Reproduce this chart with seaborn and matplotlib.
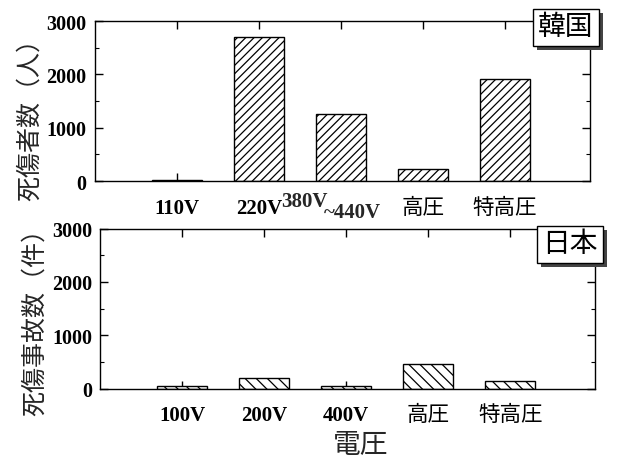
import matplotlib
matplotlib.use("Agg")
import matplotlib.pyplot as plt
import matplotlib.transforms as mtransforms
import matplotlib.patheffects as pe
from matplotlib.ticker import MultipleLocator
import seaborn as sns
import pandas as pd

# ---- data ----
kr_categories = ["110V", "220V", "380V~440V", "高圧", "特高圧"]
kr_values = [15, 2700, 1260, 230, 1920]
jp_categories = ["100V", "200V", "400V", "高圧", "特高圧"]
jp_values = [55, 190, 45, 470, 135]
y_ticks = [0, 1000, 2000, 3000]
kr_ylabel = "死傷者数（人）"
jp_ylabel = "死傷事故数（件）"
xlabel = "電圧"
kr_tag = "韓国"
jp_tag = "日本"

sns.set_theme(style="ticks")
FAM = ["Liberation Serif", "Noto Sans CJK JP", "DejaVu Sans"]
plt.rcParams["font.family"] = FAM
plt.rcParams["hatch.linewidth"] = 0.9

fig = plt.figure(figsize=(6.2, 4.6), dpi=100)
ax1 = fig.add_axes([0.153, 0.604, 0.798, 0.348])
ax2 = fig.add_axes([0.162, 0.153, 0.797, 0.348])


def is_ascii(s):
    return all(ord(c) < 128 for c in s)


def draw(ax, cats, vals, hatch, ylabel, ylab_y, tag, tagxy):
    df = pd.DataFrame({"cat": cats, "val": vals})
    sns.barplot(data=df, x="cat", y="val", ax=ax, color="white",
                edgecolor="black", linewidth=1.0, hatch=hatch, width=0.61,
                errorbar=None, saturation=1)
    for p in ax.patches:
        p.set_facecolor("white")
        p.set_edgecolor("black")
    ax.set_xlim(-1, 5.03)
    ax.set_ylim(0, 3000)
    ax.set_yticks(y_ticks)
    ax.yaxis.set_minor_locator(MultipleLocator(500))
    ax.set_yticklabels([str(v) for v in y_ticks], fontsize=14.5, fontweight="bold")
    ax.set_xlabel("")
    ax.set_ylabel(ylabel, fontsize=18, family=FAM)
    ax.yaxis.set_label_coords(-0.108, ylab_y)
    ax.tick_params(axis="both", which="both", direction="in", top=True, right=True,
                   colors="black")
    ax.tick_params(axis="both", which="major", length=6, width=1)
    ax.tick_params(axis="y", which="minor", length=3, width=0.8)
    ax.tick_params(axis="x", which="major", pad=12)
    ax.tick_params(axis="y", which="major", pad=6)
    labels = ["" if "~" in c else c for c in cats]
    ax.set_xticks(range(len(cats)))
    ax.set_xticklabels(labels)
    for t in ax.get_xticklabels():
        if is_ascii(t.get_text()):
            t.set_fontweight("bold")
            t.set_fontsize(15)
        else:
            t.set_fontweight("normal")
            t.set_fontsize(15.5)
    trans = mtransforms.blended_transform_factory(ax.transData, ax.transAxes)
    for i, c in enumerate(cats):
        if "~" in c:
            a, b = c.split("~")
            ax.text(i - 0.45, -0.125, a, transform=trans, ha="center", va="center",
                    fontsize=15, fontweight="bold")
            ax.text(i + 0.14, -0.195, "~" + b, transform=trans, ha="center",
                    va="center", fontsize=15, fontweight="bold")
    for s in ax.spines.values():
        s.set_visible(True)
        s.set_color("black")
        s.set_linewidth(1.0)
    x, y = tagxy
    t = ax.text(x, y, tag, transform=ax.transAxes, ha="center", va="center",
                fontsize=20, color="black", clip_on=False, zorder=6,
                bbox=dict(boxstyle="square,pad=0.2", fc="white", ec="black", lw=1.0))
    t.get_bbox_patch().set_path_effects([
        pe.SimplePatchShadow(offset=(3, -3), shadow_rgbFace="#444444", alpha=1.0),
        pe.Normal()])


draw(ax1, kr_categories, kr_values, "////", kr_ylabel, 0.43, kr_tag, (0.952, 0.96))
draw(ax2, jp_categories, jp_values, "\\\\\\", jp_ylabel, 0.46, jp_tag, (0.95, 0.90))

fig.text(0.581, 0.03, xlabel, ha="center", va="center", fontsize=20)

fig.savefig("out.png", dpi=100, facecolor="white")
